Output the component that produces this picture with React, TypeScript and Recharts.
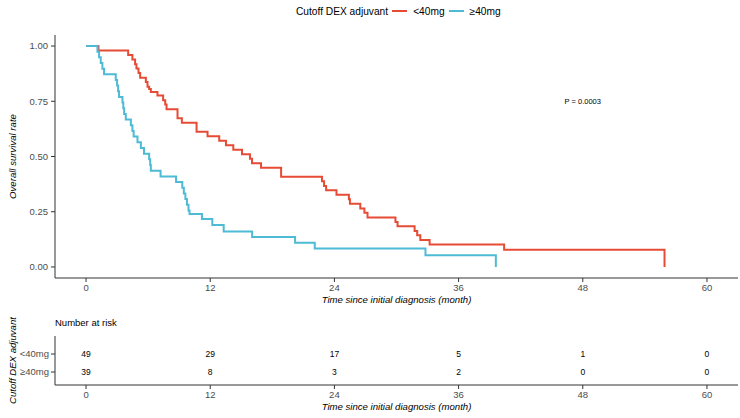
import React from 'react';
import { LineChart, Line, XAxis, YAxis, ScatterChart, Scatter, ReferenceDot, Label } from 'recharts';

// groups and colours (npg palette)
const groups = ['<40mg', '≥40mg'];
const colors = ['#E64B35', '#4DBBD5'];

// Kaplan-Meier steps, <40mg
const lowTime = [0, 1.2, 4.07, 4.48, 4.74, 4.87, 5.07, 5.23, 5.78, 5.94, 6.1, 6.26, 6.9, 7.45, 7.65, 7.78, 8.84, 9.26, 10.68, 11.74, 12.87, 13.52, 14.23, 15.07, 15.84, 16.04, 16.91, 18.85, 22.8, 23.0, 23.2, 24.2, 25.4, 25.5, 26.5, 26.9, 27.2, 29.9, 30.1, 31.75, 32.0, 32.3, 33.2, 40.4, 55.9];
const lowSurv = [1, 0.98, 0.959, 0.939, 0.918, 0.898, 0.878, 0.857, 0.837, 0.816, 0.806, 0.792, 0.776, 0.755, 0.735, 0.714, 0.673, 0.653, 0.612, 0.592, 0.571, 0.551, 0.531, 0.51, 0.49, 0.469, 0.449, 0.408, 0.388, 0.367, 0.347, 0.327, 0.306, 0.286, 0.265, 0.245, 0.224, 0.204, 0.184, 0.163, 0.143, 0.122, 0.102, 0.078, 0];

// ≥40mg
const highTime = [0, 1.1, 1.26, 1.42, 1.58, 1.74, 2.87, 3.0, 3.1, 3.19, 3.52, 3.6, 3.68, 3.84, 4.33, 4.48, 4.6, 4.97, 5.3, 5.6, 6.1, 6.2, 6.26, 7.2, 8.7, 9.3, 9.45, 9.6, 9.75, 9.9, 10.0, 11.2, 12.2, 13.3, 16.05, 20.2, 22.1, 32.8, 39.6];
const highSurv = [1, 0.974, 0.949, 0.923, 0.897, 0.872, 0.846, 0.821, 0.795, 0.769, 0.744, 0.718, 0.692, 0.667, 0.641, 0.615, 0.59, 0.564, 0.538, 0.513, 0.487, 0.462, 0.436, 0.41, 0.385, 0.359, 0.333, 0.308, 0.282, 0.256, 0.24, 0.217, 0.19, 0.16, 0.136, 0.11, 0.083, 0.053, 0];

const xTicks = [0, 12, 24, 36, 48, 60];
const yTicks = [0, 0.25, 0.5, 0.75, 1];

// number at risk table
const riskLow = [49, 29, 17, 5, 1, 0];
const riskHigh = [39, 8, 3, 2, 0, 0];

const pText = 'P = 0.0003';
const pAt = { t: 48, s: 0.75 };

const xTitle = 'Time since initial diagnosis (month)';

const font = '"Liberation Sans", Arial, sans-serif';
const axisStroke = '#333333';
const tickFill = '#4D4D4D';

const toRows = (ts: number[], ss: number[]) => ts.map((t, i) => ({ t, s: ss[i] }));

const riskRows = [
  ...xTicks.map((t, i) => ({ t, row: 2, n: riskLow[i] })),
  ...xTicks.map((t, i) => ({ t, row: 1, n: riskHigh[i] })),
];

const XTitle = (p: any) => {
  const { x, y, width } = p.viewBox;
  return (
    <text x={x + width / 2} y={y + 25} textAnchor="middle" fontSize={9.6} fontStyle="italic" fill="#000">
      {xTitle}
    </text>
  );
};

const yTitle = (txt: string) => (p: any) => {
  const { y, height } = p.viewBox;
  const cx = 12;
  const cy = y + height / 2;
  return (
    <text x={cx} y={cy} transform={`rotate(-90, ${cx}, ${cy})`} textAnchor="middle" dominantBaseline="central" fontSize={9.6} fontStyle="italic" fill="#000">
      {txt}
    </text>
  );
};

const RiskCell = (p: any) => (
  <text x={p.cx} y={p.cy} dy="0.35em" textAnchor="middle" fontSize={8.5} fill="#000">
    {p.payload.n}
  </text>
);

export default function App() {
  return (
    <div style={{ position: 'absolute', left: 0, top: 0, width: 740, height: 418, background: '#fff', fontFamily: font }}>
      {/* legend */}
      <div style={{ position: 'absolute', top: 3, left: 296, height: 16, display: 'flex', alignItems: 'center', fontSize: 10.2, color: '#000', whiteSpace: 'nowrap' }}>
        <span>Cutoff DEX adjuvant</span>
        {groups.map((g, i) => (
          <span key={g} style={{ display: 'flex', alignItems: 'center' }}>
            <svg width={17} height={10} style={{ marginLeft: 3 }}>
              <line x1={1} y1={5} x2={16} y2={5} stroke={colors[i]} strokeWidth={2} />
            </svg>
            <span style={{ marginLeft: 5 }}>{g}</span>
          </span>
        ))}
      </div>

      <div style={{ position: 'absolute', top: 0, left: 0 }}>
        <LineChart width={740} height={310} margin={{ top: 35, right: 2, left: 0, bottom: 0 }}>
          <XAxis
            type="number"
            dataKey="t"
            domain={[-3, 63]}
            ticks={xTicks}
            allowDataOverflow
            height={32}
            tickSize={4}
            tickMargin={2}
            tick={{ fill: tickFill, fontSize: 9.5 }}
            axisLine={{ stroke: axisStroke }}
            tickLine={{ stroke: axisStroke }}
            label={<Label content={XTitle} />}
          />
          <YAxis
            type="number"
            domain={[-0.05, 1.05]}
            ticks={yTicks}
            width={55}
            tickSize={4}
            tickMargin={3}
            tickFormatter={(v: number) => v.toFixed(2)}
            tick={{ fill: tickFill, fontSize: 9.5 }}
            axisLine={{ stroke: axisStroke }}
            tickLine={{ stroke: axisStroke }}
            label={<Label content={yTitle('Overall survival rate')} />}
          />
          <Line data={toRows(lowTime, lowSurv)} dataKey="s" type="stepAfter" stroke={colors[0]} strokeWidth={2} dot={false} isAnimationActive={false} />
          <Line data={toRows(highTime, highSurv)} dataKey="s" type="stepAfter" stroke={colors[1]} strokeWidth={2} dot={false} isAnimationActive={false} />
          <ReferenceDot x={pAt.t} y={pAt.s} r={1} fill="none" stroke="none" label={{ value: pText, position: 'center', fontSize: 7.5, fill: '#000' }} />
        </LineChart>
      </div>

      <div style={{ position: 'absolute', top: 317, left: 55, fontSize: 9.5, color: '#000' }}>Number at risk</div>

      <div style={{ position: 'absolute', top: 310, left: 0 }}>
        <ScatterChart width={740} height={108} margin={{ top: 26, right: 2, left: 0, bottom: 0 }}>
          <XAxis
            type="number"
            dataKey="t"
            domain={[-3, 63]}
            ticks={xTicks}
            allowDataOverflow
            height={33}
            tickSize={4}
            tickMargin={2}
            tick={{ fill: tickFill, fontSize: 9.5 }}
            axisLine={{ stroke: axisStroke }}
            tickLine={{ stroke: axisStroke }}
            label={<Label content={XTitle} />}
          />
          <YAxis
            type="number"
            dataKey="row"
            domain={[0.28, 3.0]}
            ticks={[1, 2]}
            width={55}
            tickSize={4}
            tickMargin={2}
            tickFormatter={(v: number) => groups[2 - v]}
            tick={{ fill: tickFill, fontSize: 9.5 }}
            axisLine={{ stroke: axisStroke }}
            tickLine={{ stroke: axisStroke }}
            label={<Label content={yTitle('Cutoff DEX adjuvant')} />}
          />
          <Scatter data={riskRows} shape={RiskCell} isAnimationActive={false} />
        </ScatterChart>
      </div>
    </div>
  );
}
